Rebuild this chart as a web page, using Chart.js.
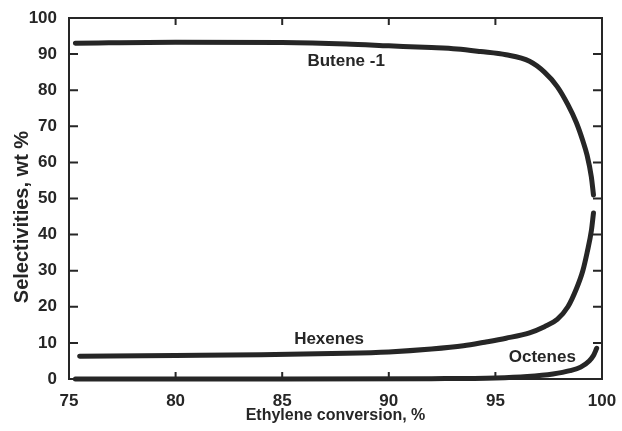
<!DOCTYPE html>
<html>
<head>
<meta charset="utf-8">
<script src="https://cdn.jsdelivr.net/npm/chart.js@4"></script>
<style>
  html, body { margin: 0; padding: 0; background: #fff; }
  #wrap { width: 622px; height: 431px; }
</style>
</head>
<body>
<div id="wrap"><canvas id="selChart" width="622" height="431"></canvas></div>
<script>
// values (ethylene conversion %, selectivity wt %)
const buteneX = [75.3, 80, 85, 88, 90, 92, 93.2, 94.3, 95.5, 96.6, 97.3, 97.9, 98.4, 98.8, 99.1, 99.3, 99.5, 99.6];
const buteneY = [93, 93.3, 93.2, 92.8, 92.3, 91.8, 91.4, 90.7, 89.8, 88, 85, 81, 76, 71, 66, 62, 56, 51];

const hexenesX = [75.5, 80, 84, 88, 90, 92, 93.5, 94.5, 95.5, 96.6, 97.3, 97.9, 98.4, 98.8, 99.1, 99.3, 99.5, 99.6];
const hexenesY = [6.3, 6.5, 6.7, 7.1, 7.5, 8.3, 9.2, 10.2, 11.3, 12.8, 14.5, 16.5, 20, 25, 30, 35, 41, 46];

const octenesX = [75.3, 85, 92, 95, 96.5, 97.7, 98.5, 99, 99.4, 99.6, 99.75];
const octenesY = [0, 0, 0.1, 0.3, 0.7, 1.4, 2.3, 3.3, 5, 6.5, 8.5];

const xTicks = [75, 80, 85, 90, 95, 100];
const yTicks = [0, 10, 20, 30, 40, 50, 60, 70, 80, 90, 100];

// curve labels, anchored in data units
const curveLabels = [
  { text: "Butene -1", x: 88.0, y: 88.0 },
  { text: "Hexenes", x: 87.2, y: 10.9 },
  { text: "Octenes", x: 97.2, y: 6.0 }
];

const ink = "#262626";
const fam = "'Liberation Sans', Arial, sans-serif";
const pts = (xs, ys) => xs.map((x, i) => ({ x, y: ys[i] }));

const line = (label, xs, ys) => ({
  label,
  data: pts(xs, ys),
  borderColor: ink,
  borderWidth: 5,
  pointRadius: 0,
  fill: false,
  cubicInterpolationMode: "monotone",
  borderCapStyle: "round",
  clip: false
});

const framePlugin = {
  id: "frame",
  afterDraw(chart) {
    const { ctx, chartArea: a, scales } = chart;
    ctx.save();
    ctx.strokeStyle = ink;
    ctx.lineWidth = 2;
    ctx.strokeRect(a.left, a.top, a.right - a.left, a.bottom - a.top);
    ctx.beginPath();
    xTicks.forEach(v => {
      const px = scales.x.getPixelForValue(v);
      ctx.moveTo(px, a.bottom); ctx.lineTo(px, a.bottom - 7);
      ctx.moveTo(px, a.top); ctx.lineTo(px, a.top + 7);
    });
    yTicks.forEach(v => {
      const py = scales.y.getPixelForValue(v);
      ctx.moveTo(a.left, py); ctx.lineTo(a.left + 9, py);
      ctx.moveTo(a.right, py); ctx.lineTo(a.right - 9, py);
    });
    ctx.stroke();

    ctx.fillStyle = ink;
    ctx.textAlign = "center";
    ctx.textBaseline = "middle";
    ctx.font = "bold 17px " + fam;
    curveLabels.forEach(l => {
      ctx.fillText(l.text, scales.x.getPixelForValue(l.x), scales.y.getPixelForValue(l.y));
    });

    // y axis title, sits a little below the axis middle as in the original
    ctx.translate(22, 217);
    ctx.rotate(-Math.PI / 2);
    ctx.font = "bold 20px " + fam;
    ctx.fillText("Selectivities, wt %", 0, 0);
    ctx.restore();
  }
};

new Chart(document.getElementById("selChart"), {
  type: "line",
  data: {
    datasets: [
      line("Butene-1", buteneX, buteneY),
      line("Hexenes", hexenesX, hexenesY),
      line("Octenes", octenesX, octenesY)
    ]
  },
  options: {
    responsive: false,
    animation: false,
    layout: { padding: { top: 18, right: 20, left: 0, bottom: 0 } },
    plugins: { legend: { display: false }, tooltip: { enabled: false } },
    scales: {
      x: {
        type: "linear",
        min: 75,
        max: 100,
        afterBuildTicks: s => { s.ticks = xTicks.map(v => ({ value: v })); },
        afterFit: s => { s.height = 52; },
        grid: { display: false },
        border: { display: false },
        ticks: {
          color: ink,
          padding: 4,
          font: { family: fam, size: 17, weight: "bold" }
        },
        title: {
          display: true,
          text: "Ethylene conversion, %",
          color: ink,
          padding: { top: 0, bottom: 6 },
          font: { family: fam, size: 16, weight: "bold" }
        }
      },
      y: {
        min: 0,
        max: 100,
        afterBuildTicks: s => { s.ticks = yTicks.map(v => ({ value: v })); },
        afterFit: s => { s.width = 69; },
        grid: { display: false },
        border: { display: false },
        ticks: {
          color: ink,
          padding: 4,
          font: { family: fam, size: 17, weight: "bold" }
        }
      }
    }
  },
  plugins: [framePlugin]
});
</script>
</body>
</html>
